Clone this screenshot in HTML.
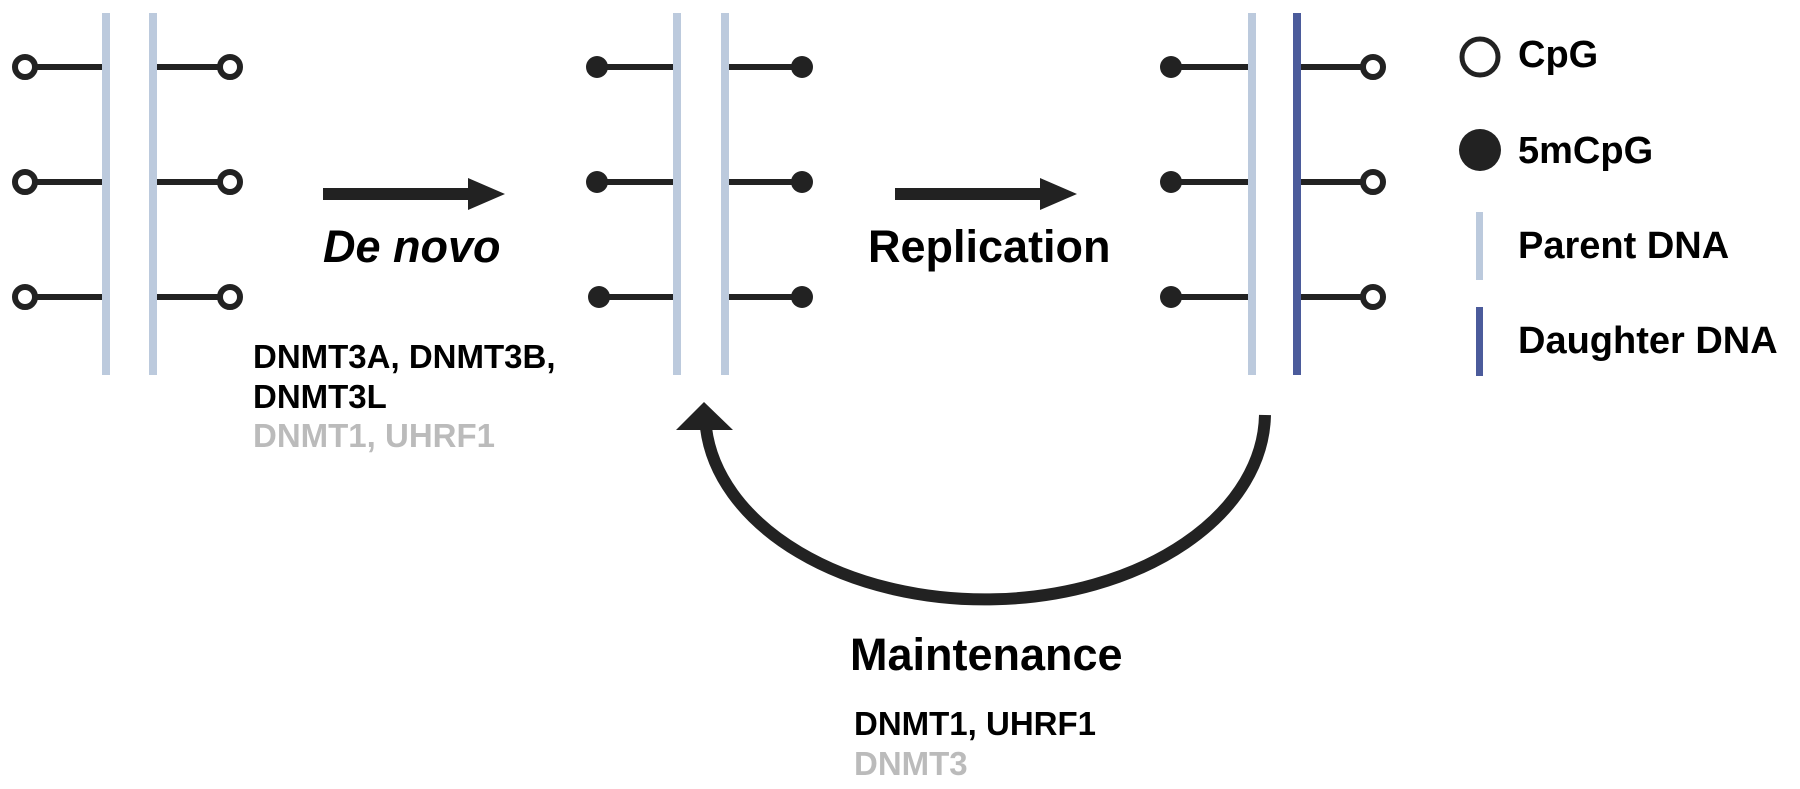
<!DOCTYPE html>
<html><head><meta charset="utf-8"><style>
html,body{margin:0;padding:0;background:#fff;}
svg{display:block;}
text{font-family:"Liberation Sans",Arial,sans-serif;font-weight:bold;}
</style></head><body>
<svg width="1800" height="789" viewBox="0 0 1800 789" xmlns="http://www.w3.org/2000/svg">
<g stroke="#222" stroke-width="6">
<!-- panel 1 -->
<line x1="25" y1="67" x2="106" y2="67"/><line x1="25" y1="182" x2="106" y2="182"/><line x1="25" y1="297" x2="106" y2="297"/>
<line x1="153" y1="67" x2="230" y2="67"/><line x1="153" y1="182" x2="230" y2="182"/><line x1="153" y1="297" x2="230" y2="297"/>
<!-- panel 2 -->
<line x1="597" y1="67" x2="677" y2="67"/><line x1="597" y1="182" x2="677" y2="182"/><line x1="597" y1="297" x2="677" y2="297"/>
<line x1="725" y1="67" x2="802" y2="67"/><line x1="725" y1="182" x2="802" y2="182"/><line x1="725" y1="297" x2="802" y2="297"/>
<!-- panel 3 -->
<line x1="1171" y1="67" x2="1252" y2="67"/><line x1="1171" y1="182" x2="1252" y2="182"/><line x1="1171" y1="297" x2="1252" y2="297"/>
<line x1="1297" y1="67" x2="1373" y2="67"/><line x1="1297" y1="182" x2="1373" y2="182"/><line x1="1297" y1="297" x2="1373" y2="297"/>
</g>
<g fill="#fff" stroke="#222" stroke-width="6">
<circle cx="25" cy="67" r="10"/><circle cx="25" cy="182" r="10"/><circle cx="25" cy="297" r="10"/>
<circle cx="230" cy="67" r="10"/><circle cx="230" cy="182" r="10"/><circle cx="230" cy="297" r="10"/>
<circle cx="1373" cy="67" r="10"/><circle cx="1373" cy="182" r="10"/><circle cx="1373" cy="297" r="10"/>
</g>
<g fill="#222">
<circle cx="597" cy="67" r="11"/><circle cx="597" cy="182" r="11"/><circle cx="599" cy="297" r="11"/>
<circle cx="802" cy="67" r="11"/><circle cx="802" cy="182" r="11"/><circle cx="802" cy="297" r="11"/>
<circle cx="1171" cy="67" r="11"/><circle cx="1171" cy="182" r="11"/><circle cx="1171" cy="297" r="11"/>
</g>
<g fill="#bccadd">
<rect x="102" y="13" width="8" height="362"/><rect x="149" y="13" width="8" height="362"/>
<rect x="673" y="13" width="8" height="362"/><rect x="721" y="13" width="8" height="362"/>
<rect x="1248" y="13" width="8" height="362"/>
<rect x="1476" y="212" width="7" height="68"/>
</g>
<rect x="1293" y="13" width="8" height="362" fill="#4b5b9b"/>
<rect x="1476" y="307" width="7" height="69" fill="#4b5b9b"/>
<!-- straight arrows -->
<rect x="323" y="188" width="150" height="12" fill="#222"/>
<polygon points="468,178 505,194 468,210" fill="#222"/>
<rect x="895" y="188" width="150" height="12" fill="#222"/>
<polygon points="1040,178 1077,194 1040,210" fill="#222"/>
<!-- curved arrow -->
<path d="M1265,415 A280 187 0 0 1 706,428" fill="none" stroke="#222" stroke-width="12"/>
<polygon points="704,402 676,430 733,430" fill="#222"/>
<!-- legend -->
<circle cx="1480" cy="57" r="18" fill="#fff" stroke="#222" stroke-width="5"/>
<circle cx="1480" cy="150" r="21" fill="#222"/>
<text x="1518" y="67" font-size="38">CpG</text>
<text x="1518" y="163" font-size="38">5mCpG</text>
<text x="1518" y="258" font-size="38">Parent DNA</text>
<text x="1518" y="353" font-size="38">Daughter DNA</text>
<!-- labels -->
<text x="323" y="262" font-size="45" font-style="italic">De novo</text>
<text x="868" y="262" font-size="45">Replication</text>
<text x="253" y="368" font-size="33">DNMT3A, DNMT3B,</text>
<text x="253" y="408" font-size="33">DNMT3L</text>
<text x="253" y="447" font-size="33" fill="#bbb">DNMT1, UHRF1</text>
<text x="850" y="670" font-size="45">Maintenance</text>
<text x="854" y="735" font-size="33">DNMT1, UHRF1</text>
<text x="854" y="775" font-size="33" fill="#bbb">DNMT3</text>
</svg>
</body></html>
